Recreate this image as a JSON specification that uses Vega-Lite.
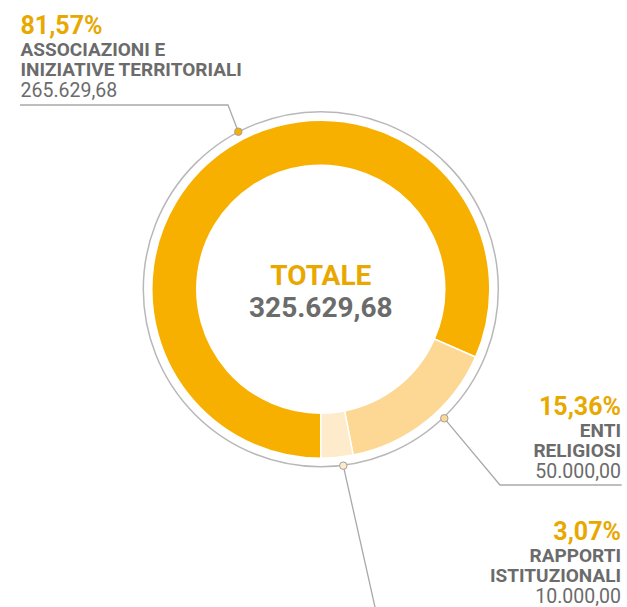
{
  "$schema": "https://vega.github.io/schema/vega-lite/v6.json",
  "width": 627,
  "height": 607,
  "autosize": {"type": "none"},
  "padding": 0,
  "background": "white",
  "config": {
    "view": {"stroke": null},
    "font": "Roboto",
    "locale": {"number": {"decimal": ",", "thousands": ".", "grouping": [3], "currency": ["", " €"]}}
  },
  "datasets": {
    "quote": [
      {"categoria": "Associazioni e iniziative territoriali", "nome": "ASSOCIAZIONI E\nINIZIATIVE TERRITORIALI", "importo": 265629.68, "quota": 0.8157, "ordine": 1},
      {"categoria": "Enti religiosi", "nome": "ENTI\nRELIGIOSI", "importo": 50000, "quota": 0.1536, "ordine": 2},
      {"categoria": "Rapporti istituzionali", "nome": "RAPPORTI\nISTITUZIONALI", "importo": 10000, "quota": 0.0307, "ordine": 3}
    ],
    "etichette": [
      {"categoria": "Associazioni e iniziative territoriali", "ax": 20.5, "ay": 34},
      {"categoria": "Enti religiosi", "ax": 621, "ay": 415},
      {"categoria": "Rapporti istituzionali", "ax": 621, "ay": 540}
    ],
    "richiami": [
      {"categoria": "Associazioni e iniziative territoriali", "seq": 0, "x": 238.3, "y": 131.7},
      {"categoria": "Associazioni e iniziative territoriali", "seq": 1, "x": 228, "y": 105},
      {"categoria": "Associazioni e iniziative territoriali", "seq": 2, "x": 20, "y": 105},
      {"categoria": "Enti religiosi", "seq": 0, "x": 444.3, "y": 418.3},
      {"categoria": "Enti religiosi", "seq": 1, "x": 500, "y": 485},
      {"categoria": "Enti religiosi", "seq": 2, "x": 621.7, "y": 485},
      {"categoria": "Rapporti istituzionali", "seq": 0, "x": 343.3, "y": 465.7},
      {"categoria": "Rapporti istituzionali", "seq": 1, "x": 377.9, "y": 620}
    ]
  },
  "layer": [
    {
      "data": {"values": [{"anello": "contorno"}]},
      "mark": {"type": "point", "shape": "circle", "filled": false, "size": 126025, "stroke": "#b8b8b8", "strokeWidth": 1.5, "opacity": 1},
      "encoding": {
        "x": {"datum": 320.8, "type": "quantitative", "scale": {"domain": [0, 627], "nice": false, "zero": false}, "axis": null},
        "y": {"datum": 289.2, "type": "quantitative", "scale": {"domain": [0, 607], "nice": false, "zero": false, "reverse": true}, "axis": null}
      }
    },
    {
      "data": {"name": "quote"},
      "mark": {"type": "arc", "outerRadius": 169, "innerRadius": 124, "stroke": "white", "strokeWidth": 1.5},
      "encoding": {
        "x": {"datum": 320.8, "type": "quantitative", "scale": {"domain": [0, 627], "nice": false, "zero": false}, "axis": null},
        "y": {"datum": 289.2, "type": "quantitative", "scale": {"domain": [0, 607], "nice": false, "zero": false, "reverse": true}, "axis": null},
        "theta": {"field": "importo", "type": "quantitative", "stack": true, "scale": {"range": [3.14159265, 9.42477796]}},
        "order": {"field": "ordine", "type": "quantitative"},
        "color": {"field": "categoria", "type": "nominal", "legend": null,
          "scale": {"domain": ["Associazioni e iniziative territoriali", "Enti religiosi", "Rapporti istituzionali"], "range": ["#F8B000", "#FDD794", "#FEEBCB"]}}
      }
    },
    {
      "data": {"name": "richiami"},
      "mark": {"type": "line", "stroke": "#a9a9a9", "strokeWidth": 1.3},
      "encoding": {
        "x": {"field": "x", "type": "quantitative", "scale": {"domain": [0, 627], "nice": false, "zero": false}, "axis": null},
        "y": {"field": "y", "type": "quantitative", "scale": {"domain": [0, 607], "nice": false, "zero": false, "reverse": true}, "axis": null},
        "detail": {"field": "categoria", "type": "nominal"},
        "order": {"field": "seq", "type": "quantitative"}
      }
    },
    {
      "data": {"name": "richiami"},
      "transform": [{"filter": "datum.seq == 0"}],
      "mark": {"type": "point", "shape": "circle", "filled": true, "size": 56, "stroke": "#a0a0a0", "strokeWidth": 1, "opacity": 1},
      "encoding": {
        "x": {"field": "x", "type": "quantitative", "scale": {"domain": [0, 627], "nice": false, "zero": false}, "axis": null},
        "y": {"field": "y", "type": "quantitative", "scale": {"domain": [0, 607], "nice": false, "zero": false, "reverse": true}, "axis": null},
        "fill": {"field": "categoria", "type": "nominal", "legend": null,
          "scale": {"domain": ["Associazioni e iniziative territoriali", "Enti religiosi", "Rapporti istituzionali"], "range": ["#F8B000", "#FDD794", "#FEEBCB"]}}
      }
    },
    {
      "data": {"values": [{"etichetta": "TOTALE"}]},
      "mark": {"type": "text", "align": "center", "baseline": "alphabetic", "dy": -4, "fontSize": 28, "fontWeight": "bold", "color": "#E8A800"},
      "encoding": {
        "x": {"datum": 320.8, "type": "quantitative", "scale": {"domain": [0, 627], "nice": false, "zero": false}, "axis": null},
        "y": {"datum": 289.2, "type": "quantitative", "scale": {"domain": [0, 607], "nice": false, "zero": false, "reverse": true}, "axis": null},
        "text": {"field": "etichetta", "type": "nominal"}
      }
    },
    {
      "data": {"name": "quote"},
      "mark": {"type": "text", "align": "center", "baseline": "alphabetic", "dy": 27.5, "fontSize": 28, "fontWeight": "bold", "color": "#6b6b6b"},
      "encoding": {
        "x": {"datum": 320.8, "type": "quantitative", "scale": {"domain": [0, 627], "nice": false, "zero": false}, "axis": null},
        "y": {"datum": 289.2, "type": "quantitative", "scale": {"domain": [0, 607], "nice": false, "zero": false, "reverse": true}, "axis": null},
        "text": {"aggregate": "sum", "field": "importo", "type": "quantitative", "format": ",.2f"}
      }
    },
    {
      "data": {"name": "etichette"},
      "transform": [
        {"lookup": "categoria", "from": {"data": {"name": "quote"}, "key": "categoria", "fields": ["nome", "importo", "quota"]}},
        {"filter": "datum.ax < 300"}
      ],
      "layer": [
        {
          "mark": {"type": "text", "align": "left", "baseline": "alphabetic", "fontSize": 25, "fontWeight": "bold", "color": "#E8A800"},
          "encoding": {"text": {"field": "quota", "type": "quantitative", "format": ".2%"}}
        },
        {
          "mark": {"type": "text", "align": "left", "baseline": "alphabetic", "dy": 21.5, "lineBreak": "\n", "lineHeight": 20.5, "fontSize": 19, "fontWeight": "bold", "color": "#6b6b6b"},
          "encoding": {"text": {"field": "nome", "type": "nominal"}}
        },
        {
          "mark": {"type": "text", "align": "left", "baseline": "alphabetic", "dy": 63, "fontSize": 19.5, "fontWeight": "normal", "color": "#6b6b6b"},
          "encoding": {"text": {"field": "importo", "type": "quantitative", "format": ",.2f"}}
        }
      ],
      "encoding": {
        "x": {"field": "ax", "type": "quantitative", "scale": {"domain": [0, 627], "nice": false, "zero": false}, "axis": null},
        "y": {"field": "ay", "type": "quantitative", "scale": {"domain": [0, 607], "nice": false, "zero": false, "reverse": true}, "axis": null}
      }
    },
    {
      "data": {"name": "etichette"},
      "transform": [
        {"lookup": "categoria", "from": {"data": {"name": "quote"}, "key": "categoria", "fields": ["nome", "importo", "quota"]}},
        {"filter": "datum.ax >= 300"}
      ],
      "layer": [
        {
          "mark": {"type": "text", "align": "right", "baseline": "alphabetic", "fontSize": 25, "fontWeight": "bold", "color": "#E8A800"},
          "encoding": {"text": {"field": "quota", "type": "quantitative", "format": ".2%"}}
        },
        {
          "mark": {"type": "text", "align": "right", "baseline": "alphabetic", "dy": 21.5, "lineBreak": "\n", "lineHeight": 20.5, "fontSize": 19, "fontWeight": "bold", "color": "#6b6b6b"},
          "encoding": {"text": {"field": "nome", "type": "nominal"}}
        },
        {
          "mark": {"type": "text", "align": "right", "baseline": "alphabetic", "dy": 63, "fontSize": 19.5, "fontWeight": "normal", "color": "#6b6b6b"},
          "encoding": {"text": {"field": "importo", "type": "quantitative", "format": ",.2f"}}
        }
      ],
      "encoding": {
        "x": {"field": "ax", "type": "quantitative", "scale": {"domain": [0, 627], "nice": false, "zero": false}, "axis": null},
        "y": {"field": "ay", "type": "quantitative", "scale": {"domain": [0, 607], "nice": false, "zero": false, "reverse": true}, "axis": null}
      }
    }
  ]
}
